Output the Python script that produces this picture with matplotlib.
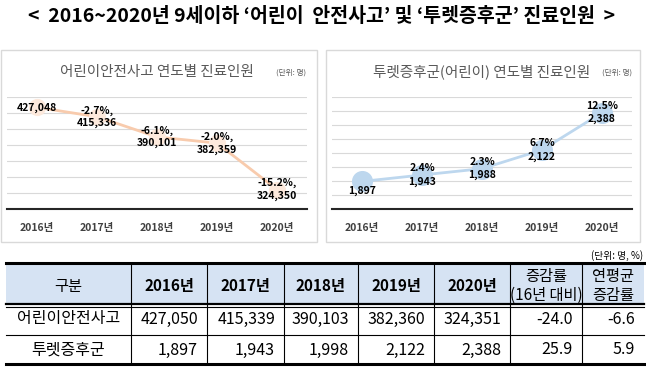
import matplotlib.pyplot as plt
from matplotlib.patches import Rectangle

plt.rcParams['font.family'] = ['Noto Sans CJK KR', 'DejaVu Sans']

years = ['2016년', '2017년', '2018년', '2019년', '2020년']
safety = [427048, 415336, 390101, 382359, 324350]
safety_pct = ['', '-2.7%,', '-6.1%,', '-2.0%,', '-15.2%,']
tourette = [1897, 1943, 1988, 2122, 2388]
tourette_pct = ['', '2.4%', '2.3%', '6.7%', '12.5%']

tbl_header = ['구분'] + years + ['증감률\n(16년 대비)', '연평균\n증감률']
tbl_safety = ['어린이안전사고', '427,050', '415,339', '390,103', '382,360', '324,351', '-24.0', '-6.6']
tbl_tourette = ['투렛증후군', '1,897', '1,943', '1,998', '2,122', '2,388', '25.9', '5.9']

W, H = 646, 373
fig = plt.figure(figsize=(W / 100, H / 100), dpi=100)

# background axes in pixel coords
bg = fig.add_axes([0, 0, 1, 1])
bg.set_xlim(0, W)
bg.set_ylim(H, 0)
bg.axis('off')

bg.text(322, 17, '<  2016~2020년 9세이하 ‘어린이  안전사고’ 및 ‘투렛증후군’ 진료인원  >',
        ha='center', va='center', fontsize=14, fontweight='bold')

for x0, x1 in [(1, 317), (326, 640)]:
    bg.add_patch(Rectangle((x0, 50), x1 - x0, 192, fill=False, ec='#d9d9d9', lw=1))

bg.text(157, 72, '어린이안전사고 연도별 진료인원', ha='center', va='center',
        fontsize=10.5, color='#595959')
bg.text(291, 73, '(단위: 명)', ha='center', va='center', fontsize=5.5, color='#595959')
bg.text(482, 72, '투렛증후군(어린이) 연도별 진료인원', ha='center', va='center',
        fontsize=10.5, color='#595959')
bg.text(617, 73, '(단위: 명)', ha='center', va='center', fontsize=5.5, color='#595959')


def px_axes(x0, y0, x1, y1):
    return fig.add_axes([x0 / W, 1 - y1 / H, (x1 - x0) / W, (y1 - y0) / H])


def style(ax, lo, hi, step):
    ax.set_xlim(-0.5, 4.5)
    ax.set_ylim(lo, hi)
    ax.set_yticks(range(lo, hi + 1, step))
    ax.yaxis.grid(True, color='#d9d9d9', lw=0.8)
    ax.set_axisbelow(True)
    ax.tick_params(axis='y', length=0, labelleft=False)
    ax.tick_params(axis='x', length=0, pad=10, labelsize=7.5, labelcolor='#404040')
    ax.set_xticks(range(5))
    ax.set_xticklabels(years, fontweight='bold')
    for s in ['top', 'left', 'right']:
        ax.spines[s].set_visible(False)
    ax.spines['bottom'].set_color('#262626')
    ax.spines['bottom'].set_linewidth(1.5)
    ax.patch.set_alpha(0)


ax1 = px_axes(7, 97, 307, 209)
style(ax1, 300000, 440000, 20000)
ax1.plot(range(5), safety, color='#f8cbad', lw=2, zorder=2)
ax1.scatter(range(5), safety, s=130, color='#fde9dc', zorder=3)
for i, v in enumerate(safety):
    txt = f'{v:,}' if not safety_pct[i] else f'{safety_pct[i]}\n{v:,}'
    ax1.annotate(txt, (i, v), ha='center', va='center', fontsize=7.5,
                 fontweight='bold', linespacing=1.3, zorder=4)

ax2 = px_axes(332, 97, 632, 209)
style(ax2, 1700, 2500, 100)
ax2.plot(range(5), tourette, color='#bdd7ee', lw=2, zorder=2)
ax2.scatter(range(5), tourette, s=200, color='#bdd7ee', zorder=3)
for i, v in enumerate(tourette):
    if not tourette_pct[i]:
        ax2.annotate(f'{v:,}', (i, v), xytext=(0, -7), textcoords='offset points',
                     ha='center', va='center', fontsize=7.5, fontweight='bold', zorder=4)
    else:
        ax2.annotate(f'{tourette_pct[i]}\n{v:,}', (i, v), ha='center', va='center',
                     fontsize=7.5, fontweight='bold', linespacing=1.4, zorder=4)

# table
cols = [6, 131, 207, 284, 358, 434, 510, 582, 644]
top, hdr, mid, bot = 263, 305, 335, 364
bg.add_patch(Rectangle((cols[0], top), cols[-1] - cols[0], hdr - top, color='#d6e3f3', lw=0))
bg.text(643, 256, '(단위: 명, %)', ha='right', va='center', fontsize=7)
bg.plot([cols[0], cols[-1]], [top, top], color='black', lw=2.2)
bg.plot([cols[0], cols[-1]], [hdr - 1, hdr - 1], color='black', lw=1.6)
bg.plot([cols[0], cols[-1]], [hdr + 2, hdr + 2], color='black', lw=0.8)
bg.plot([cols[0], cols[-1]], [mid, mid], color='black', lw=0.8)
bg.plot([cols[0], cols[-1]], [bot, bot], color='black', lw=2.2)
for x in cols[1:-1]:
    bg.plot([x, x], [top, bot], color='black', lw=0.8)

for j, h in enumerate(tbl_header):
    cx = (cols[j] + cols[j + 1]) / 2
    weight = 'bold' if h.endswith('년') else 'medium'
    bg.text(cx, 286, h, ha='center', va='center', fontsize=11, fontweight=weight,
            linespacing=1.1)

for row, cy in [(tbl_safety, 319), (tbl_tourette, 350)]:
    for j, val in enumerate(row):
        if j == 0:
            bg.text((cols[0] + cols[1]) / 2, cy, val, ha='center', va='center', fontsize=11.5)
        else:
            bg.text(cols[j + 1] - 9, cy, val, ha='right', va='center', fontsize=11.5)

fig.savefig('out.png', dpi=100)
